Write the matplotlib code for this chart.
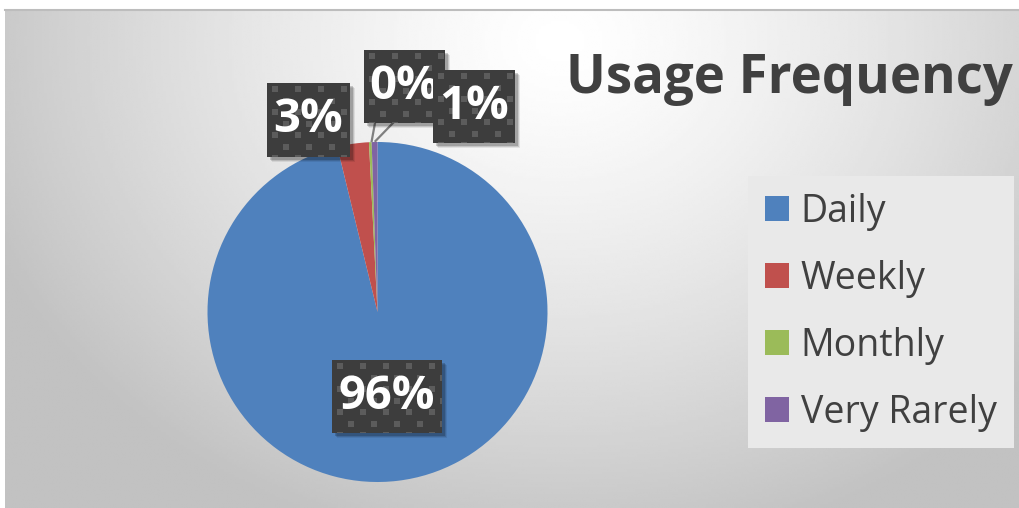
import numpy as np
import matplotlib
matplotlib.use("Agg")
import matplotlib.pyplot as plt
from matplotlib.patches import Rectangle, Patch

# data
categories = ["Daily", "Weekly", "Monthly", "Very Rarely"]
shares = [96.2, 3.0, 0.25, 0.55]
colors = ["#4F81BD", "#C0504D", "#9BBB59", "#8064A2"]
title = "Usage Frequency"

W, H = 1019, 508
fig = plt.figure(figsize=(W / 100, H / 100), dpi=100)
fig.patch.set_facecolor("white")

# background with radial gradient (pixel coords)
bg = fig.add_axes([0, 0, 1, 1])
bg.set_xlim(0, W)
bg.set_ylim(H, 0)
bg.axis("off")
xx, yy = np.meshgrid(np.linspace(5, W, 400), np.linspace(10, H, 200))
d = np.sqrt(((xx - 560) / 620) ** 2 + ((yy - 40) / 520) ** 2)
shade = 1.0 - 0.24 * np.clip(d, 0, 1) ** 1.3
bg.imshow(shade, cmap="gray", vmin=0, vmax=1, extent=(5, W, H, 10),
          aspect="auto", interpolation="bilinear")
bg.plot([5, W], [9.5, 9.5], color="#bdbdbd", lw=1.5)

# pie
cx, cy, r = 377.5, 312, 170
ax = fig.add_axes([(cx - r) / W, (H - cy - r) / H, 2 * r / W, 2 * r / H])
wedges, _ = ax.pie(shares, colors=colors, startangle=90, counterclock=False,
                   wedgeprops=dict(linewidth=0))
ax.set_xlim(-1, 1)
ax.set_ylim(-1, 1)

# legend
ax.legend(handles=[Patch(facecolor=c, edgecolor="none") for c in colors],
          labels=categories, loc="upper left",
          bbox_to_anchor=(748 / W, 1 - 176 / H), bbox_transform=fig.transFigure,
          borderaxespad=0, frameon=True, fancybox=False, facecolor="#e9e9e9",
          edgecolor="none", framealpha=1,
          prop={"family": "Open Sans", "size": 27}, labelcolor="#404040",
          handlelength=0.64, handleheight=0.64, handletextpad=0.32,
          borderpad=0.45, labelspacing=0.77)

# overlay for labels and title
ov = fig.add_axes([0, 0, 1, 1])
ov.set_xlim(0, W)
ov.set_ylim(H, 0)
ov.axis("off")
ov.patch.set_alpha(0)

ov.text(789, 93, title, ha="center", va="baseline", fontsize=38,
        fontweight="bold", family="Open Sans", color="#404040")

# leader lines
ov.plot([371.7, 375], [141, 123], color="#7f7f7f", lw=1.6, zorder=1)
ov.plot([375.5, 393], [141, 123], color="#7f7f7f", lw=1.6, zorder=1)

label_boxes = [(267, 83, 350, 157), (364, 50, 445, 123),
               (433, 70, 515, 143), (332, 360, 442, 433)]
label_idx = [1, 2, 3, 0]


def data_label(x0, y0, x1, y1, txt, z):
    for k, a in [(5, 0.08), (4, 0.12), (3, 0.18)]:
        ov.add_patch(Rectangle((x0 + k, y0 + k), x1 - x0, y1 - y0,
                               facecolor="black", alpha=a, lw=0, zorder=z))
    box = Rectangle((x0, y0), x1 - x0, y1 - y0, facecolor="#3d3d3d",
                    lw=0, zorder=z + 0.1)
    ov.add_patch(box)
    for j, yd in enumerate(np.arange(y0 + 3, y1, 11.5)):
        off = 0 if j % 2 == 0 else 11.5
        for xd in np.arange(x0 + 5 + off, x1, 23):
            sq = Rectangle((xd, yd), 6, 6, facecolor="#5c5c5c", lw=0,
                           zorder=z + 0.2)
            ov.add_patch(sq)
            sq.set_clip_path(box)
    ov.text((x0 + x1) / 2, (y0 + y1) / 2, txt, ha="center", va="center",
            fontsize=34, fontweight="bold", family="Open Sans", color="white",
            zorder=z + 0.3)


for n, (b, i) in enumerate(zip(label_boxes, label_idx)):
    data_label(*b, f"{round(shares[i])}%", 2 + n)

fig.savefig("out.png", dpi=100)
